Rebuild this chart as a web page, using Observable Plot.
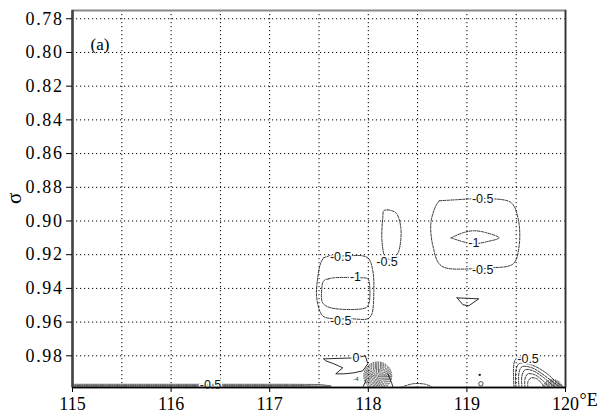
<!DOCTYPE html>
<html><head><meta charset="utf-8">
<script src="https://cdn.jsdelivr.net/npm/d3@7"></script>
<script src="https://cdn.jsdelivr.net/npm/@observablehq/plot@0.6"></script>
<style>
body{margin:0;background:#fff}
#chart svg g[aria-label="y-axis tick label"], #chart svg g[aria-label="x-axis tick label"]{font-family:"Liberation Serif","Times New Roman",serif !important}
#chart svg g[aria-label="y-axis tick label"] text{letter-spacing:1.6px;font-family:"Liberation Serif","Times New Roman",serif !important}
#chart svg g[aria-label="x-axis tick label"] text{font-family:"Liberation Serif","Times New Roman",serif !important}
</style>
</head><body><div id="chart"></div>
<script>
// axes
const xDomain = [115, 120];
const yDomain = [0.7751, 0.9988];
const xTicks = [115, 116, 117, 118, 119, 120];
const xTickLabels = ["115", "116", "117", "118", "119", "120"];
const xGrid = [115.5, 116, 116.5, 117, 117.5, 118, 118.5, 119, 119.5];
const yTicks = [0.78, 0.80, 0.82, 0.84, 0.86, 0.88, 0.90, 0.92, 0.94, 0.96, 0.98];

// contour lines [lon, sigma]
const rightOuter = [[118.72,0.888],[118.89,0.8874],[119.07,0.8868],[119.26,0.8868],[119.45,0.8892],[119.52,0.8987],[119.53,0.9147],[119.47,0.9254],[119.26,0.9278],[119.07,0.9284],[118.74,0.9266],[118.655,0.9147],[118.635,0.9011],[118.685,0.891],[118.72,0.888]];
const rightInner = [[118.84,0.91],[118.96,0.907],[119.07,0.9058],[119.2,0.907],[119.325,0.91],[119.2,0.9123],[119.07,0.9135],[118.96,0.9123],[118.84,0.91]];
const triangle = [[118.9,0.9456],[119.12,0.9462],[119.02,0.9503],[118.96,0.9497],[118.9,0.9456]];
const leftOuter = [[117.548,0.9218],[117.65,0.9201],[117.74,0.9207],[117.944,0.9207],[118.005,0.9224],[118.046,0.9296],[118.056,0.9414],[118.036,0.9551],[117.995,0.958],[117.82,0.958],[117.65,0.958],[117.538,0.9563],[117.477,0.9456],[117.487,0.9337],[117.518,0.9248],[117.548,0.9218]];
const leftInner = [[117.599,0.9343],[117.65,0.9337],[117.924,0.9337],[117.995,0.9343],[118.015,0.9396],[118.005,0.9491],[117.975,0.9515],[117.619,0.9515],[117.538,0.9486],[117.528,0.9402],[117.548,0.9355],[117.599,0.9343]];
const midOval = [[118.198,0.8934],[118.279,0.8951],[118.33,0.904],[118.31,0.9177],[118.279,0.9207],[118.228,0.923],[118.17,0.921],[118.157,0.9195],[118.137,0.91],[118.147,0.8981],[118.157,0.8939],[118.198,0.8934]];
const zeroContour = [[117.548,0.9818],[117.873,0.9812],[117.97,0.98],[117.995,0.9847],[117.944,0.9889],[117.853,0.9901],[117.751,0.9907],[117.67,0.9907],[117.741,0.9871],[117.65,0.9847],[117.569,0.983],[117.548,0.9818]];
const bandA = [[115,0.9969],[116.5,0.9969],[117.2,0.9969],[117.5,0.997],[117.62,0.9978]];
const bandB = [[115,0.9976],[116.5,0.9976],[117.3,0.9976],[117.55,0.998],[117.62,0.9985]];
const bandC = [[115,0.9982],[117.62,0.9982]];
const hump = [[118.33,0.9988],[118.45,0.9966],[118.58,0.9969],[118.655,0.9988]];
const legLeft = [[117.975,0.9948],[117.944,0.9988]];
const legRight = [[118.198,0.9907],[118.24,0.9966],[118.25,0.9988]];
const arcM05 = [[119.477,0.9988],[119.477,0.9847],[119.5,0.9818],[119.6,0.9812]];
const arc1 = [[119.497,0.9988],[119.497,0.9889],[119.528,0.9847],[119.65,0.9853],[119.802,0.9901],[119.904,0.9954],[119.975,0.9984]];
const arc2 = [[119.528,0.9988],[119.528,0.9901],[119.558,0.9865],[119.66,0.9871],[119.792,0.9919],[119.883,0.996],[119.954,0.9988]];
const arc3 = [[119.558,0.9988],[119.558,0.9919],[119.589,0.9883],[119.67,0.9889],[119.782,0.9931],[119.863,0.9972],[119.914,0.9988]];
const arc4 = [[119.589,0.9988],[119.589,0.9937],[119.619,0.9907],[119.69,0.9913],[119.772,0.9948],[119.843,0.9988]];
const arc5 = [[119.619,0.9988],[119.619,0.9954],[119.65,0.9931],[119.711,0.9937],[119.761,0.9966],[119.792,0.9988]];

// dense concentric contours (level values)
const circleCenter = [118.096, 0.9919];
const circleLevels = [-0.5,-1,-1.5,-2,-2.5,-3,-3.5,-4,-4.5,-5,-5.5,-6,-6.5];
const domeCenter = [119.87, 1.0005];
const domeLevels = [-2,-2.5,-3,-3.5,-4,-4.5,-5,-5.5,-6,-6.5];

// small features
const smallDots = [[119.13,0.9913]];
const smallLoops = [[119.142,0.9966]];

// contour labels
const labelLon = [117.72, 117.87, 117.72, 118.19, 119.16, 119.07, 119.16, 117.875, 119.62, 116.40];
const labelSig = [0.9212, 0.9331, 0.9592, 0.9242, 0.8868, 0.9129, 0.929, 0.9812, 0.9818, 0.9972];
const labelText = ["-0.5", "-1", "-0.5", "-0.5", "-0.5", "-1", "-0.5", "0", "-0.5", "-0.5"];

const SERIF = "Liberation Serif";
const SANS = "Liberation Sans";

const rows = (name, pts) => pts.map(([lon, sig]) => ({id: name, lon, sig}));
const dashed = [
  ...rows("rightOuter", rightOuter), ...rows("rightInner", rightInner),
  ...rows("leftOuter", leftOuter), ...rows("leftInner", leftInner),
  ...rows("midOval", midOval), ...rows("hump", hump),
  ...rows("arcM05", arcM05), ...rows("arc1", arc1), ...rows("arc2", arc2),
  ...rows("arc3", arc3), ...rows("arc4", arc4), ...rows("arc5", arc5)
];
const bands = [...rows("bandA", bandA), ...rows("bandB", bandB), ...rows("bandC", bandC)];
const solid = [...rows("zero", zeroContour), ...rows("tri", triangle), ...rows("legL", legLeft), ...rows("legR", legRight)];
const rings = [
  ...circleLevels.map(l => ({lon: circleCenter[0], sig: circleCenter[1], level: l})),
  ...domeLevels.map(l => ({lon: domeCenter[0], sig: domeCenter[1], level: l}))
];
const labels = labelText.map((t, i) => ({lon: labelLon[i], sig: labelSig[i], t}));

const chart = Plot.plot({
  width: 598, height: 416,
  marginLeft: 72, marginRight: 33, marginTop: 10, marginBottom: 29,
  x: {domain: xDomain, label: null},
  y: {domain: yDomain, reverse: true, label: null},
  r: {type: "linear", domain: [0, -7], range: [15, 0]},
  style: {fontSize: "17px", background: "white", color: "black"},
  marks: [
    Plot.gridX(xGrid, {stroke: "black", strokeOpacity: 1, strokeWidth: 1, strokeDasharray: "1.2,2.8"}),
    Plot.gridY(yTicks, {stroke: "black", strokeOpacity: 1, strokeWidth: 1, strokeDasharray: "1.2,2.8"}),
    Plot.line(dashed, {x: "lon", y: "sig", z: "id", stroke: "#222", strokeWidth: 0.9, strokeDasharray: "2.6,1.3", curve: "catmull-rom"}),
    Plot.line(bands, {x: "lon", y: "sig", z: "id", stroke: "#333", strokeWidth: 0.8, strokeDasharray: "1.5,0.8", clip: true}),
    Plot.line(solid, {x: "lon", y: "sig", z: "id", stroke: "#111", strokeWidth: 0.9, curve: "linear"}),
    Plot.dot(rings, {x: "lon", y: "sig", r: "level", stroke: "#222", strokeWidth: 0.8, strokeDasharray: "1.6,0.9", fill: "none", clip: true}),
    Plot.dot(smallDots, {x: d => d[0], y: d => d[1], r: 1.2, fill: "#222", stroke: "none"}),
    Plot.dot(smallLoops, {x: d => d[0], y: d => d[1], r: 2.2, fill: "none", stroke: "#222", strokeWidth: 0.8}),
    Plot.text(labels, {x: "lon", y: "sig", text: "t", fontFamily: SANS, fontSize: 12.5, fill: "#111", stroke: "white", strokeWidth: 3, paintOrder: "stroke"}),
    Plot.text(["-4"], {x: () => 117.875, y: () => 0.9937, text: d => d, fontFamily: SANS, fontSize: 6, fill: "#222"}),
    Plot.frame({stroke: "#888", strokeWidth: 2}),
    Plot.ruleX([xDomain[0]], {stroke: "#444", strokeWidth: 2.5}),
    Plot.ruleX([xDomain[1]], {stroke: "#333", strokeWidth: 1.5}),
    Plot.ruleY([yDomain[1]], {stroke: "#000", strokeWidth: 1.5}),
    Plot.axisX({ticks: xTicks, tickSize: 5, tickPadding: 5, tickFormat: (d) => xTickLabels[xTicks.indexOf(d)], fontSize: 18, fontFamily: SERIF, stroke: "#000", label: null}),
    Plot.axisY({ticks: yTicks, tickSize: 6, tickPadding: 3, tickFormat: d3.format(".2f"), fontSize: 18, fontFamily: SERIF, stroke: "#000", label: null}),
    Plot.text(["°E"], {text: d => d, frameAnchor: "bottom-right", dx: 14, dy: 18, textAnchor: "start", fontSize: 18, fontFamily: SERIF}),
    Plot.text(["(a)"], {text: d => d, frameAnchor: "top-left", dx: 18, dy: 27, fontSize: 17, fontFamily: SERIF}),
    Plot.text(["σ"], {text: d => d, frameAnchor: "left", dx: -58, dy: 5, rotate: -90, fontSize: 21, fontFamily: SERIF})
  ]
});
document.getElementById("chart").appendChild(chart);
</script>
</body></html>
